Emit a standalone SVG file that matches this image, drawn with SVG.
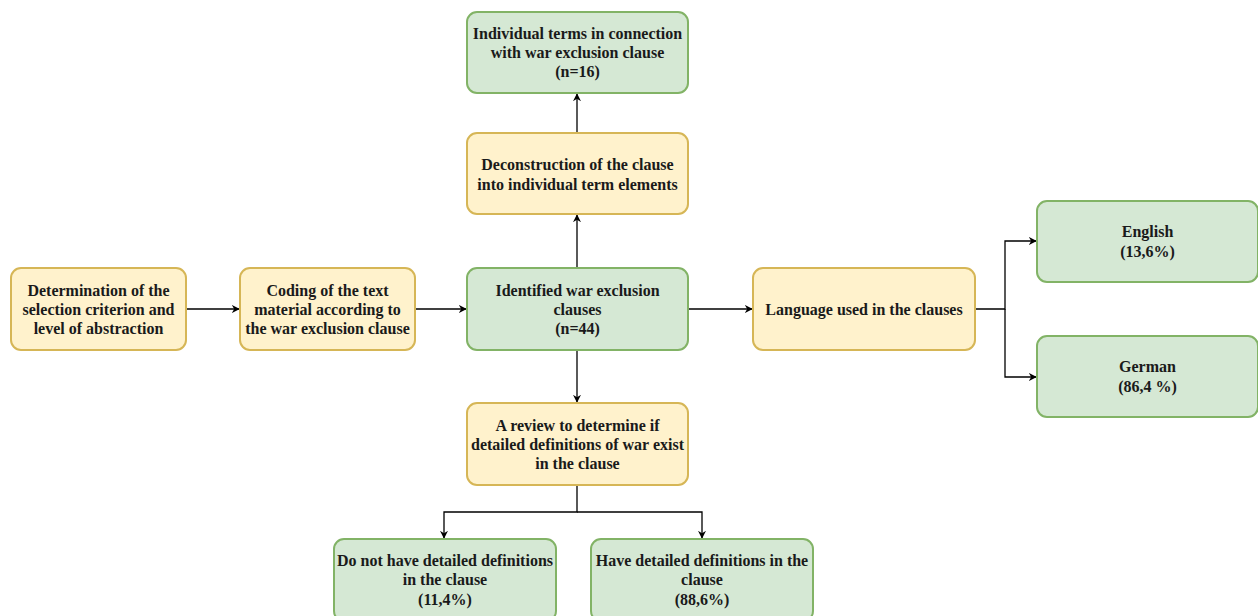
<svg xmlns="http://www.w3.org/2000/svg" width="1258" height="616" viewBox="0 0 1258 616" font-family="Liberation Serif, Times New Roman, DejaVu Serif, serif">
<style>
.y{fill:#fff2cc;stroke:#d6b656;stroke-width:2}
.g{fill:#d5e8d4;stroke:#82b366;stroke-width:2}
text{font-weight:bold;font-size:16px;fill:#1a1a1a;text-anchor:middle;dominant-baseline:central}
.c path{fill:none;stroke:#000;stroke-width:1.3}
</style>
<defs>
<marker id="a" viewBox="0 0 10 10" refX="9" refY="5" markerWidth="8" markerHeight="8" markerUnits="userSpaceOnUse" orient="auto">
<path d="M0,0 L10,5 L0,10 L3,5 Z" fill="#000"/>
</marker>
</defs>
<rect width="1258" height="616" fill="#fff"/>
<g class="c">
<path d="M186,309 H239" marker-end="url(#a)"/>
<path d="M415,309 H466" marker-end="url(#a)"/>
<path d="M688,309 H752" marker-end="url(#a)"/>
<path d="M975,309 H1005 V241 H1036" marker-end="url(#a)"/>
<path d="M1005,309 V377 H1036" marker-end="url(#a)"/>
<path d="M577,268 V215" marker-end="url(#a)"/>
<path d="M577,133 V94" marker-end="url(#a)"/>
<path d="M577,350 V402" marker-end="url(#a)"/>
<path d="M577,485 V512 H444 V538" marker-end="url(#a)"/>
<path d="M577,512 H702 V538" marker-end="url(#a)"/>
</g>
<g id="n1"><rect class="y" x="11" y="268" width="175" height="82" rx="10"/>
<text x="98.5" y="290">Determination of the</text><text x="98.5" y="309">selection criterion and</text><text x="98.5" y="328">level of abstraction</text></g>
<g id="n2"><rect class="y" x="240" y="268" width="175" height="82" rx="10"/>
<text x="327.5" y="290">Coding of the text</text><text x="327.5" y="309">material according to</text><text x="327.5" y="328">the war exclusion clause</text></g>
<g id="n3"><rect class="g" x="467" y="268" width="221" height="82" rx="10"/>
<text x="577.5" y="290">Identified war exclusion</text><text x="577.5" y="309">clauses</text><text x="577.5" y="328">(n=44)</text></g>
<g id="n4"><rect class="y" x="467" y="133" width="221" height="81" rx="10"/>
<text x="577.5" y="164">Deconstruction of the clause</text><text x="577.5" y="184">into individual term elements</text></g>
<g id="n5"><rect class="g" x="467" y="12" width="221" height="81" rx="10"/>
<text x="577.5" y="33">Individual terms in connection</text><text x="577.5" y="52">with war exclusion clause</text><text x="577.5" y="71">(n=16)</text></g>
<g id="n6"><rect class="y" x="467" y="403" width="221" height="82" rx="10"/>
<text x="577.5" y="425">A review to determine if</text><text x="577.5" y="444">detailed definitions of war exist</text><text x="577.5" y="463">in the clause</text></g>
<g id="n7"><rect class="y" x="753" y="268" width="222" height="82" rx="10"/>
<text x="864" y="309">Language used in the clauses</text></g>
<g id="n8"><rect class="g" x="1037" y="201" width="221" height="81" rx="10"/>
<text x="1147.5" y="231">English</text><text x="1147.5" y="251">(13,6%)</text></g>
<g id="n9"><rect class="g" x="1037" y="336" width="221" height="81" rx="10"/>
<text x="1147.5" y="366">German</text><text x="1147.5" y="386">(86,4 %)</text></g>
<g id="n10"><rect class="g" x="334" y="539" width="222" height="82" rx="10"/>
<text x="445" y="560">Do not have detailed definitions</text><text x="445" y="579">in the clause</text><text x="445" y="599">(11,4%)</text></g>
<g id="n11"><rect class="g" x="591" y="539" width="222" height="82" rx="10"/>
<text x="702" y="560">Have detailed definitions in the</text><text x="702" y="579">clause</text><text x="702" y="599">(88,6%)</text></g>
</svg>
